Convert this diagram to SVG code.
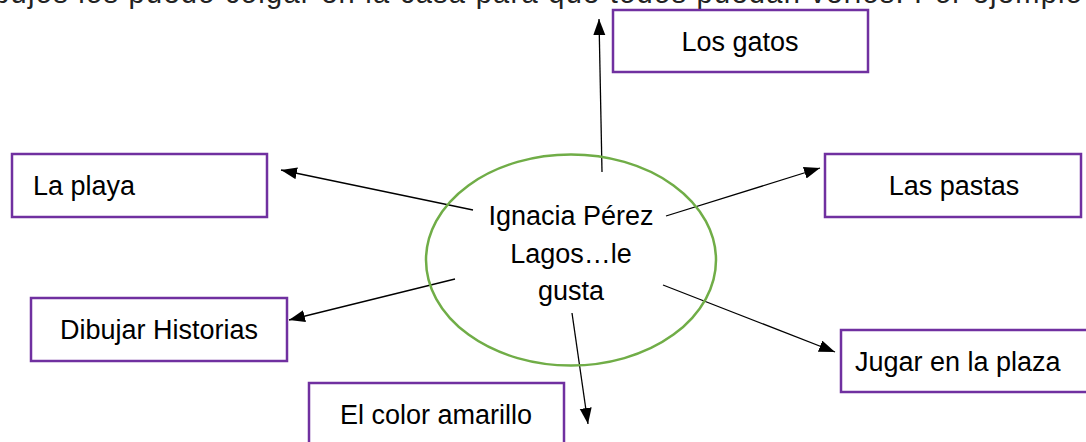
<svg xmlns="http://www.w3.org/2000/svg" width="1086" height="442" viewBox="0 0 1086 442">
<style>
.box{fill:#fff;stroke:#7030A0;stroke-width:2.5}
.t{font-family:"Liberation Sans",Arial,sans-serif;font-size:27px;fill:#000}
.c{stroke:#000;stroke-width:1.3;fill:none;marker-end:url(#ah)}
</style>
<defs>
<marker id="ah" markerUnits="userSpaceOnUse" markerWidth="18" markerHeight="14" refX="16" refY="6" orient="auto">
<path d="M0,0 L16,6 L0,12 Z" fill="#000"/>
</marker>
</defs>
<rect width="1086" height="442" fill="#fff"/>
<text class="t" x="-32" y="3" textLength="1114" lengthAdjust="spacing" style="font-size:29px;fill:#222">dibujos los puedo colgar en la casa para que todos puedan verlos. Por ejemplo</text>
<g id="connectors">
<line class="c" x1="602" y1="172" x2="599" y2="19"/>
<line class="c" x1="473" y1="210" x2="281" y2="170"/>
<line class="c" x1="455" y1="279" x2="289" y2="320"/>
<line class="c" x1="666" y1="216" x2="820" y2="168"/>
<line class="c" x1="663" y1="285" x2="835" y2="352"/>
<line class="c" x1="572" y1="313" x2="588" y2="424"/>
</g>
<g id="center">
<ellipse cx="571" cy="260" rx="145" ry="105.5" fill="none" stroke="#70AD47" stroke-width="2.5"/>
<text class="t" text-anchor="middle" x="571" y="225">Ignacia Pérez</text>
<text class="t" text-anchor="middle" x="571" y="263">Lagos…le</text>
<text class="t" text-anchor="middle" x="571" y="300">gusta</text>
</g>
<g id="los-gatos">
<rect class="box" x="613" y="10" width="255" height="62"/>
<text class="t" text-anchor="middle" x="740" y="51">Los gatos</text>
</g>
<g id="la-playa">
<rect class="box" x="12" y="154" width="255" height="63"/>
<text class="t" x="33" y="195">La playa</text>
</g>
<g id="las-pastas">
<rect class="box" x="825" y="154" width="256" height="63"/>
<text class="t" text-anchor="middle" x="954" y="195">Las pastas</text>
</g>
<g id="dibujar-historias">
<rect class="box" x="31" y="298" width="256" height="63"/>
<text class="t" x="60" y="339">Dibujar Historias</text>
</g>
<g id="jugar-en-la-plaza">
<rect class="box" x="841" y="330" width="260" height="62"/>
<text class="t" x="855" y="371">Jugar en la plaza</text>
</g>
<g id="el-color-amarillo">
<rect class="box" x="309" y="383" width="255" height="70"/>
<text class="t" x="340" y="424">El color amarillo</text>
</g>
</svg>
